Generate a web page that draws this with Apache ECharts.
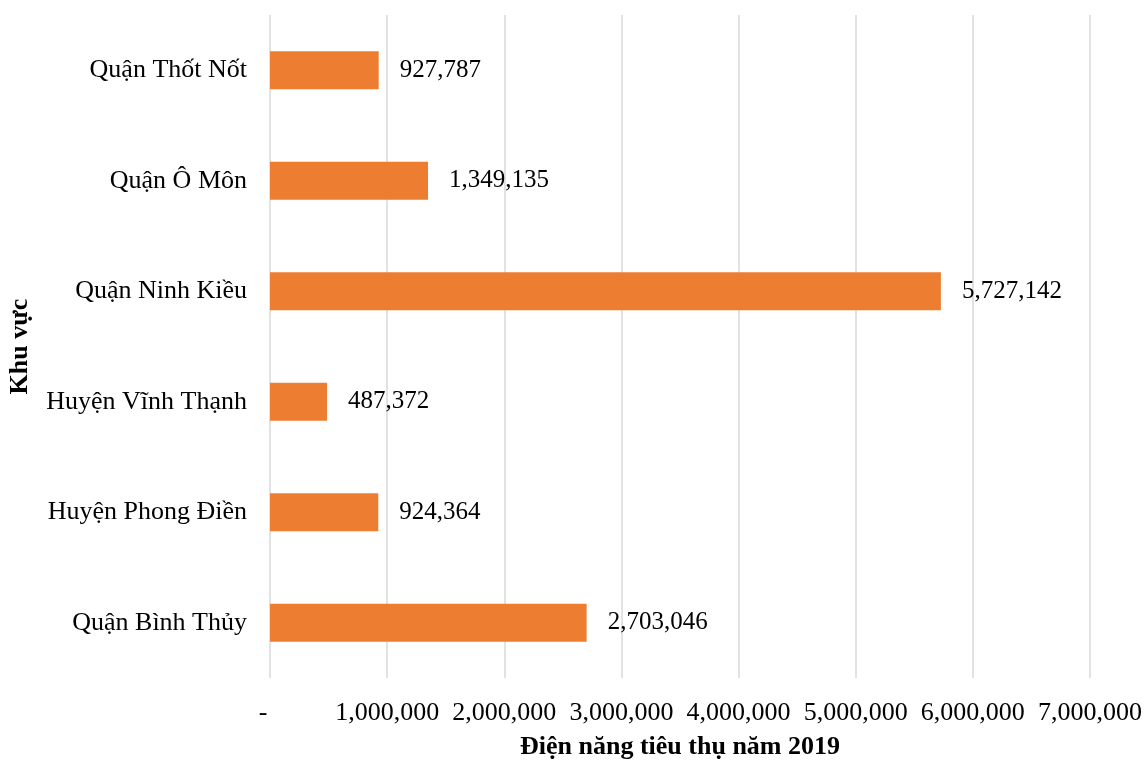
<!DOCTYPE html>
<html>
<head>
<meta charset="utf-8">
<script src="https://cdn.jsdelivr.net/npm/echarts@6/dist/echarts.min.js"></script>
<style>
  html, body { margin: 0; padding: 0; background: #fff; }
  #chart { width: 1147px; height: 760px; }
</style>
</head>
<body>
<div id="chart"></div>
<script>
// Données (de bas en haut)
const khuVuc = ['Quận Bình Thủy', 'Huyện Phong Điền', 'Huyện Vĩnh Thạnh', 'Quận Ninh Kiều', 'Quận Ô Môn', 'Quận Thốt Nốt'];
const dienNang = [2703046, 924364, 487372, 5727142, 1349135, 927787];
const xMax = 7000000;
const xStep = 1000000;

const fontFamily = '"Liberation Serif", "Times New Roman", serif';
const fmt = v => v.toLocaleString('en-US');

const chart = echarts.init(document.getElementById('chart'), null, { renderer: 'canvas' });

const option = {
    backgroundColor: '#ffffff',
    animation: false,
    textStyle: { fontFamily: fontFamily, color: '#000' },
    grid: { left: 270, right: 57, top: 15, bottom: 82, containLabel: false, outerBoundsMode: 'none' },
    xAxis: {
        type: 'value',
        min: 0,
        max: xMax,
        interval: xStep,
        name: 'Điện năng tiêu thụ năm 2019',
        nameLocation: 'middle',
        nameGap: 56,
        nameTextStyle: { fontFamily: fontFamily, fontSize: 26, fontWeight: 'bold', color: '#000' },
        axisLine: { show: false },
        axisTick: { show: false },
        axisLabel: {
            fontFamily: fontFamily, fontSize: 26, color: '#000', margin: 22,
            formatter: v => v === 0 ? '{d|-}' : fmt(v),
            rich: { d: { fontFamily: fontFamily, fontSize: 26, color: '#000', padding: [0, 14, 0, 0] } }
        },
        splitLine: { show: true, lineStyle: { color: '#d9d9d9', width: 1.5 } }
    },
    yAxis: {
        type: 'category',
        data: khuVuc,
        name: 'Khu vực',
        nameLocation: 'middle',
        nameGap: 237,
        nameRotate: 90,
        nameTextStyle: { fontFamily: fontFamily, fontSize: 26, fontWeight: 'bold', color: '#000' },
        axisLine: { show: false },
        axisTick: { show: false },
        axisLabel: { fontFamily: fontFamily, fontSize: 26, color: '#000', margin: 23 }
    },
    series: [{
        type: 'bar',
        data: dienNang,
        barWidth: 38,
        itemStyle: { color: '#ED7D31' },
        label: {
            show: true,
            position: 'right',
            distance: 21,
            fontFamily: fontFamily,
            fontSize: 25,
            color: '#000',
            formatter: p => fmt(p.value)
        }
    }]
};

chart.setOption(option);
window.addEventListener('resize', chart.resize);
</script>
</body>
</html>
